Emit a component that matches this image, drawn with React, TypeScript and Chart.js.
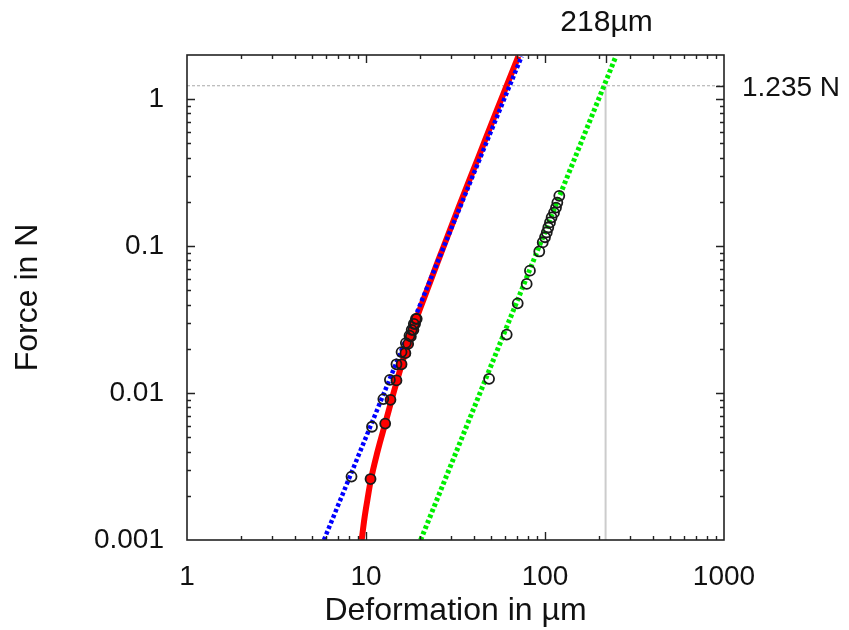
import React, { useEffect, useRef } from 'react';
import { Chart, registerables } from 'chart.js';

Chart.register(...registerables);

// ---- data ----
const xTickValues = [1, 10, 100, 1000];
const xTickLabels = ['1', '10', '100', '1000'];
const yTickValues = [0.001, 0.01, 0.1, 1];
const yTickLabels = ['0.001', '0.01', '0.1', '1'];

// red fit curve (deformation µm, force N)
const redCurveD = [9.46, 9.8, 10.2, 10.6, 11.6, 12.8, 14.8, 17.6, 21.2, 26.3, 33, 42, 54, 71];
const redCurveF = [0.001, 0.0014, 0.0019, 0.0025, 0.004, 0.0062, 0.0118, 0.024, 0.045, 0.09, 0.185, 0.39, 0.85, 1.96];

// blue dotted fit
const blueLineD = [5.82, 74.1];
const blueLineF = [0.001, 1.96];

// green dotted fit
const greenLineD = [20.2, 249];
const greenLineF = [0.001, 1.96];

// measured points
const blueDataD = [8.3, 10.8, 12.5, 13.6, 14.8, 15.8, 16.7, 17.5, 18.0, 18.5, 19.0];
const blueDataF = [0.0027, 0.0059, 0.0091, 0.0123, 0.0157, 0.019, 0.0219, 0.0246, 0.0269, 0.0296, 0.032];

const redDataD = [10.6, 12.8, 13.7, 14.8, 15.8, 16.6, 17.2, 17.8, 18.4, 18.8, 19.2];
const redDataF = [0.0026, 0.0062, 0.009, 0.0122, 0.0157, 0.0187, 0.0216, 0.0243, 0.0269, 0.0296, 0.032];

const greenDataD = [48.7, 61.1, 70.4, 79.0, 82.4, 92.9, 97.1, 100.0, 102.3, 104.3, 106.6, 108.9, 112.3, 115.2, 117.2, 120.2];
const greenDataF = [0.0125, 0.025, 0.0408, 0.0553, 0.0681, 0.092, 0.106, 0.115, 0.124, 0.134, 0.145, 0.157, 0.169, 0.183, 0.198, 0.22];

// reference marks
const markD = 218;
const markF = 1.235;
const hRefD = [1, 1000];
const hRefF = [markF, markF];
const vRefD = [markD, markD];
const vRefF = [0.001, markF];

const markLabelX = '218µm';
const markLabelY = '1.235 N';

const pts = (xs: number[], ys: number[]) => xs.map((x, i) => ({ x, y: ys[i] }));

const FONT = '"Liberation Sans", Arial, Helvetica, sans-serif';
const TXT = '#111';

const framePlugin = {
  id: 'gpFrame',
  afterDatasetsDraw(chart: any) {
    const { ctx, chartArea: a, scales } = chart;
    const xs = scales.x;
    const ys = scales.y;
    ctx.save();
    ctx.strokeStyle = '#222';
    ctx.lineWidth = 1.4;
    const major = 8;
    const minor = 4;
    ctx.beginPath();
    for (let e = 0; e <= 2; e++) {
      for (let m = 1; m <= 9; m++) {
        const v = m * Math.pow(10, e);
        const px = Math.round(xs.getPixelForValue(v)) + 0.5;
        const len = m === 1 ? major : minor;
        if (px <= a.left + 1 || px >= a.right - 1) continue;
        ctx.moveTo(px, a.bottom); ctx.lineTo(px, a.bottom - len);
        ctx.moveTo(px, a.top); ctx.lineTo(px, a.top + len);
      }
    }
    for (let e = -3; e <= 0; e++) {
      for (let m = 1; m <= 9; m++) {
        const v = m * Math.pow(10, e);
        if (v >= 2) continue;
        const py = Math.round(ys.getPixelForValue(v)) + 0.5;
        const len = m === 1 ? major : minor;
        if (py >= a.bottom - 1 || py <= a.top + 1) continue;
        ctx.moveTo(a.left, py); ctx.lineTo(a.left + len, py);
        ctx.moveTo(a.right, py); ctx.lineTo(a.right - len, py);
      }
    }
    const mx = Math.round(xs.getPixelForValue(markD)) + 0.5;
    ctx.moveTo(mx, a.top); ctx.lineTo(mx, a.top + major);
    const my = Math.round(ys.getPixelForValue(markF)) + 0.5;
    ctx.moveTo(a.right, my); ctx.lineTo(a.right - major, my);
    ctx.stroke();
    ctx.lineWidth = 1.6;
    ctx.strokeRect(a.left, a.top, a.right - a.left, a.bottom - a.top);

    ctx.fillStyle = TXT;
    ctx.textBaseline = 'middle';
    ctx.textAlign = 'center';
    ctx.font = `30px ${FONT}`;
    ctx.fillText(markLabelX, mx, 23);
    ctx.font = `28px ${FONT}`;
    ctx.textAlign = 'left';
    ctx.fillText(markLabelY, a.right + 18, my + 2);
    ctx.restore();
  },
};

export default function App() {
  const ref = useRef<HTMLCanvasElement | null>(null);
  useEffect(() => {
    if (!ref.current) return;
    const tickFont = { family: FONT, size: 28 };
    const titleFont = { family: FONT, size: 32 };
    const circle = { showLine: false, pointRadius: 5, pointBorderWidth: 1.8, pointBorderColor: '#1a1a1a' };
    const chart = new Chart(ref.current, {
      type: 'scatter',
      data: {
        datasets: [
          { label: 'green points', data: pts(greenDataD, greenDataF), ...circle, pointBackgroundColor: 'rgba(0,0,0,0)', order: 1 },
          { label: 'blue points', data: pts(blueDataD, blueDataF), ...circle, pointBackgroundColor: 'rgba(0,0,0,0)', order: 2 },
          { label: 'red points', data: pts(redDataD, redDataF), ...circle, pointBackgroundColor: '#ff0000', order: 3 },
          {
            label: 'blue fit', data: pts(blueLineD, blueLineF), showLine: true, pointRadius: 0,
            borderColor: '#0000ff', borderWidth: 4.5, borderDash: [3.5, 2.5], borderCapStyle: 'butt', order: 5,
          },
          {
            label: 'green fit', data: pts(greenLineD, greenLineF), showLine: true, pointRadius: 0,
            borderColor: '#00ee00', borderWidth: 5, borderDash: [3.5, 2.5], borderCapStyle: 'butt', order: 5,
          },
          {
            label: 'red fit', data: pts(redCurveD, redCurveF), showLine: true, pointRadius: 0,
            borderColor: '#ff0000', borderWidth: 6, cubicInterpolationMode: 'monotone', order: 6,
          },
          {
            label: 'h ref', data: pts(hRefD, hRefF), showLine: true, pointRadius: 0,
            borderColor: '#a8a8a8', borderWidth: 1, borderDash: [3, 2], order: 9,
          },
          {
            label: 'v ref', data: pts(vRefD, vRefF), showLine: true, pointRadius: 0,
            borderColor: '#cccccc', borderWidth: 2, order: 9,
          },
        ],
      },
      options: {
        responsive: false,
        animation: false,
        events: [],
        layout: { padding: { top: 55, right: 125, bottom: 0, left: 0 } },
        plugins: { legend: { display: false }, tooltip: { enabled: false } },
        scales: {
          x: {
            type: 'logarithmic',
            position: 'bottom',
            min: 1,
            max: 1000,
            grid: { display: false, drawTicks: false },
            border: { display: false },
            afterBuildTicks: (s: any) => { s.ticks = xTickValues.map((v) => ({ value: v, major: true })); },
            afterFit: (s: any) => { s.height = 90; },
            ticks: {
              autoSkip: false, maxRotation: 0, padding: 20, color: TXT, font: tickFont,
              callback: (_v: any, i: number) => xTickLabels[i],
            },
            title: { display: true, text: 'Deformation in µm', color: TXT, font: titleFont, padding: { top: 0, bottom: 0 } },
          },
          y: {
            type: 'logarithmic',
            position: 'left',
            min: 0.001,
            max: 2,
            grid: { display: false, drawTicks: false },
            border: { display: false },
            afterBuildTicks: (s: any) => { s.ticks = yTickValues.map((v) => ({ value: v, major: true })); },
            afterFit: (s: any) => { s.width = 187; },
            ticks: {
              autoSkip: false, padding: 23, color: TXT, font: tickFont,
              callback: (_v: any, i: number) => yTickLabels[i],
            },
            title: { display: true, text: 'Force in N', color: TXT, font: titleFont, padding: { top: 9, bottom: 0 } },
          },
        },
      },
      plugins: [framePlugin],
    } as any);
    return () => chart.destroy();
  }, []);
  return (
    <div style={{ position: 'fixed', left: 0, top: 0, width: 849, height: 630, background: '#fff' }}>
      <canvas ref={ref} width={849} height={630} style={{ width: 849, height: 630, display: 'block' }} />
    </div>
  );
}
